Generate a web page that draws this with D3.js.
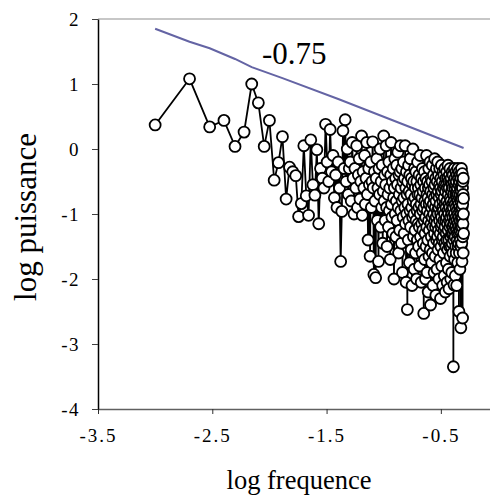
<!DOCTYPE html>
<html>
<head>
<meta charset="utf-8">
<script src="https://cdn.jsdelivr.net/npm/d3@7"></script>
<style>
	body { margin: 0; background: #fff; }
</style>
</head>
<body>
<svg id="chart" width="490" height="498"></svg>
<script>
/*
 * spectre de puissance, log-log
 */

var X_TICKS = [-3.5, -2.5, -1.5, -0.5];
var Y_TICKS = [-4, -3, -2, -1, 0, 1, 2];
var N_POINTS = 1000; // frequence = k / N_POINTS
var FONT = "Liberation Serif";

// log puissance for k = 1 .. 500
var logPower = [
	0.37, 1.08, 0.34, 0.44, 0.04, 0.26, 1.00, 0.71, 0.04, 0.44,
	-0.48, -0.21, 0.19, -0.77, -0.28, -0.35, -0.41, -1.04, -0.84, 0.05,
	-0.72, -1.02, 0.14, -0.55, -0.71, -0.01, -1.15, -0.30, -0.45, -0.60,
	0.38, -0.20, -0.50, 0.30, -0.35, -0.10, -0.75, -0.40, -0.90, -0.20,
	-0.60, -1.73, -0.96, 0.28, -0.30, 0.45, -0.50, 0.00, -0.70, -0.30,
	-0.20, -0.80, 0.10, -0.45, -1.00, -0.30, -0.60, 0.05, -0.90, -0.40,
	-0.15, -0.77, -0.50, 0.20, -1.02, -0.35, -0.60, -0.10, -0.85, -0.45,
	0.10, -0.70, -1.40, -0.30, -0.55, -1.65, -0.20, -0.90, -0.50, 0.11,
	-0.60, -1.93, -0.35, -0.80, -1.98, -0.45, -0.15, -1.10, -0.60, -1.73,
	-0.30, -0.70, 0.00, -1.20, -0.50, -0.90, -0.25, -1.45, -0.65, 0.20,
	-0.80, -0.40, -1.10, -0.55, 0.05, -0.90, -1.50, -0.35, -0.70, -1.20,
	-0.20, -0.95, -0.60, -1.70, -0.40, 0.10, -0.85, -1.05, -0.50, -1.30,
	-0.30, -0.75, -2.00, -0.60, -0.15, -1.00, -0.45, -1.35, -0.80, -0.25,
	-1.10, -0.55, -0.05, -0.90, -1.60, -0.40, -0.70, -1.25, -0.35, 0.05,
	-0.95, -0.60, -1.45, -0.30, -0.80, -1.90, -0.50, -1.05, -0.20, -0.75,
	-1.30, -0.45, -0.90, 0.05, -1.15, -0.60, -2.05, -0.35, -1.00, -0.70,
	-2.47, -0.50, -0.85, -1.40, -0.25, -1.10, -0.65, -1.75, -0.40, -0.95,
	-0.15, -1.20, -0.70, -1.55, -0.45, -0.90, -2.10, -0.55, -1.05, 0.00,
	-0.80, -1.35, -0.50, -1.00, -1.85, -0.30, -0.75, -1.25, -0.60, -1.60,
	-0.35, -1.10, -0.85, -2.00, -0.50, -0.95, -1.40, -0.20, -0.70, -1.15,
	-0.60, -1.50, -0.90, -0.40, -1.20, -1.80, -0.70, -0.10, -1.00, -1.35,
	-0.55, -0.85, -2.05, -0.45, -1.15, -0.75, -1.60, -0.30, -0.95, -1.25,
	-0.65, -1.45, -0.50, -2.53, -0.90, -1.10, -0.35, -1.70, -0.80, -1.30,
	-0.60, -2.00, -1.05, -0.45, -1.50, -0.85, -0.10, -1.20, -0.70, -1.90,
	-0.95, -0.50, -1.40, -0.75, -2.20, -0.60, -1.10, -0.30, -1.65, -0.85,
	-1.25, -0.55, -1.00, -0.20, -1.55, -0.80, -2.40, -0.65, -1.15, -0.45,
	-1.35, -0.90, -1.75, -0.50, -1.05, -0.25, -1.60, -0.70, -1.20, -2.10,
	-0.85, -0.40, -1.45, -1.00, -0.60, -1.90, -0.75, -1.30, -0.15, -1.10,
	-0.55, -1.65, -0.90, -1.20, -0.45, -2.25, -0.80, -1.05, -0.30, -1.40,
	-0.70, -1.15, -1.85, -0.50, -0.95, -1.35, -0.20, -1.00, -1.55, -0.65,
	-1.25, -0.40, -0.90, -2.00, -0.75, -1.45, -0.55, -1.10, -0.30, -1.70,
	-0.85, -1.30, -0.60, -2.30, -1.00, -0.45, -1.50, -0.70, -1.20, -0.25,
	-1.05, -1.80, -0.65, -1.15, -0.50, -1.40, -0.90, -2.10, -0.80, -0.35,
	-1.35, -0.95, -0.60, -1.60, -1.10, -0.40, -1.25, -0.75, -1.95, -0.55,
	-1.00, -1.45, -0.30, -1.20, -0.85, -2.20, -0.65, -1.10, -0.45, -1.50,
	-0.90, -1.30, -0.55, -1.75, -1.05, -0.35, -1.40, -0.80, -2.05, -0.60,
	-1.15, -0.45, -1.55, -0.95, -0.25, -1.25, -0.70, -1.85, -1.00, -0.50,
	-1.40, -0.85, -2.15, -0.60, -1.10, -0.40, -1.50, -0.90, -1.20, -0.30,
	-1.65, -0.75, -1.05, -0.50, -1.35, -2.00, -0.80, -1.15, -0.45, -1.50,
	-0.95, -0.65, -1.30, -1.90, -0.55, -1.00, -0.35, -1.45, -0.85, -1.20,
	-0.60, -1.60, -1.05, -0.40, -1.30, -0.90, -3.35, -0.70, -1.15, -0.50,
	-1.40, -2.09, -0.80, -1.25, -0.30, -1.00, -1.70, -0.60, -1.10, -0.45,
	-1.35, -0.85, -1.95, -0.55, -1.20, -0.70, -1.50, -0.35, -1.05, -0.90,
	-1.60, -0.50, -1.25, -0.75, -2.10, -0.65, -1.10, -0.40, -1.40, -0.95,
	-0.60, -1.30, -0.80, -1.75, -0.30, -1.15, -0.70, -1.50, -1.00, -0.45,
	-1.20, -0.85, -1.45, -0.55, -2.50, -1.05, -0.35, -1.30, -0.75, -1.60,
	-0.90, -0.50, -1.25, -1.85, -0.70, -1.10, -0.40, -1.40, -0.95, -0.60,
	-1.20, -0.80, -2.75, -0.45, -1.50, -1.00, -0.65, -1.30, -0.30, -1.07,
	-0.76, -1.45, -0.55, -1.73, -0.90, -1.20, -0.38, -1.05, -0.60, -2.60,
	-0.85, -1.35, -0.50, -1.15, -0.70, -1.60, -0.45, -1.00, -0.76, -1.30
];

// droite de pente -0.75
var slopeK = [1, 2, 3, 5, 7, 13, 40, 500];
var slopePower = [1.85, 1.65, 1.55, 1.385, 1.26, 1.09, 0.77, 0.015];
var slopeLabel = "-0.75";

var svg = d3.select("#chart");

var x = d3.scaleLinear()
	.domain([-3.5, 0])
	.range([98, 498]);

var y = d3.scaleLinear()
	.domain([-4, 2])
	.range([409, 19]);

function logFreq(k) {
	return Math.log10(k / N_POINTS);
}

var points = logPower.map(function(p, i) {
	return { lf: logFreq(i + 1), lp: p };
});

var slopePoints = slopeK.map(function(k, i) {
	return { lf: logFreq(k), lp: slopePower[i] };
});

// top border line
svg.append("line")
	.attr("x1", x(-3.5))
	.attr("x2", 490)
	.attr("y1", y(2))
	.attr("y2", y(2))
	.style("stroke", "#b4b4b4")
	.style("stroke-width", 1.5);

// x axis
var xAxis = svg.append("g")
	.attr("transform", "translate(0," + y(-4) + ")")
	.call(d3.axisBottom(x)
		.tickValues(X_TICKS)
		.tickSize(5)
		.tickSizeOuter(0)
		.tickPadding(15)
		.tickFormat(function(d) { return String(d); }));

xAxis.attr("font-family", FONT).attr("font-size", 19);
xAxis.select(".domain").style("stroke", "#606060").style("stroke-width", 1.5);
xAxis.selectAll(".tick line").style("stroke", "#303030");
xAxis.selectAll("text").style("fill", "#000").style("letter-spacing", "2px");

// y axis
var yAxis = svg.append("g")
	.attr("transform", "translate(" + x(-3.5) + ",0)")
	.call(d3.axisLeft(y)
		.tickValues(Y_TICKS)
		.tickSize(6)
		.tickSizeOuter(0)
		.tickPadding(12)
		.tickFormat(function(d) { return String(d); }));

yAxis.attr("font-family", FONT).attr("font-size", 19);
yAxis.select(".domain").style("stroke", "#000").style("stroke-width", 1.5);
yAxis.selectAll(".tick line").style("stroke", "#404040");
yAxis.selectAll("text").style("fill", "#000").style("letter-spacing", "1.5px");

var line = d3.line()
	.x(function(d) { return x(d.lf); })
	.y(function(d) { return y(d.lp); });

// slope line
svg.append("path")
	.datum(slopePoints)
	.attr("d", line)
	.style("fill", "none")
	.style("stroke", "#6464a4")
	.style("stroke-width", 2);

svg.append("text")
	.attr("x", 262)
	.attr("y", 64)
	.attr("font-family", FONT)
	.attr("font-size", 31)
	.text(slopeLabel);

// spectrum
svg.append("path")
	.datum(points)
	.attr("d", line)
	.style("fill", "none")
	.style("stroke", "#000")
	.style("stroke-width", 1.8);

svg.selectAll("circle.pt")
	.data(points)
	.enter()
	.append("circle")
	.attr("class", "pt")
	.attr("cx", function(d) { return x(d.lf); })
	.attr("cy", function(d) { return y(d.lp); })
	.attr("r", 5.5)
	.style("fill", "#fff")
	.style("stroke", "#000")
	.style("stroke-width", 1.8);

// axis titles
svg.append("text")
	.attr("x", 299)
	.attr("y", 489)
	.attr("text-anchor", "middle")
	.attr("font-family", FONT)
	.attr("font-size", 26.5)
	.text("log frequence");

svg.append("text")
	.attr("transform", "translate(36,217) rotate(-90)")
	.attr("text-anchor", "middle")
	.attr("font-family", FONT)
	.attr("font-size", 31)
	.text("log puissance");
</script>
</body>
</html>
